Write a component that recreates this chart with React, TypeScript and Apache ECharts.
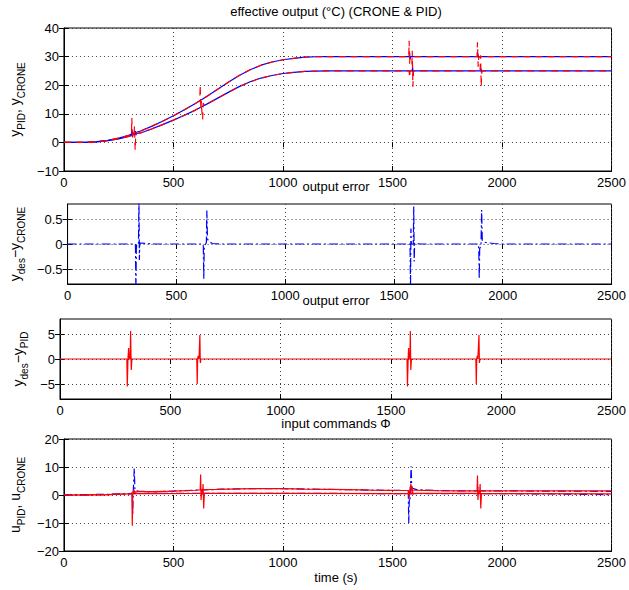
import React, { useEffect, useRef } from "react";
import * as echarts from "echarts";

const FONT = "'Liberation Sans', Arial, Helvetica, sans-serif";

// ---- data (time in s, value) ----
const timeMin = 0;
const timeMax = 2500;
const timeStep = 500;

const outTickMin = -10;
const outTickMax = 40;
const outTickStep = 10;
const errCroneRange = [-0.8, 0.8];
const errCroneTicks = [-0.5, 0, 0.5];
const errPidRange = [-8, 8];
const errPidTicks = [-5, 0, 5];
const cmdTickMin = -20;
const cmdTickMax = 20;
const cmdTickStep = 10;

const yPidHigh: [number, number][] = [
  [0, 0], [100, 0.05], [150, 0.25], [200, 0.7], [250, 1.5], [300, 2.6], [308, 2.9], [310, 8.5], [312, 1.0], [315, 3.2],
  [350, 4.0], [400, 5.6], [450, 7.4], [500, 9.3], [550, 11.4], [600, 13.6], [620, 14.6], [622, 20.0], [625, 11.5], [628, 15.0],
  [650, 16.0], [700, 18.5], [750, 21.0], [800, 23.4], [850, 25.4], [900, 27.0], [950, 28.1], [1000, 28.9], [1050, 29.4],
  [1100, 29.8], [1150, 29.95], [1200, 30], [1574, 30], [1576, 35.5], [1578, 27.5], [1580, 30], [1886, 30], [1888, 35],
  [1891, 26.5], [1894, 30], [2500, 30],
];
const yPidLow: [number, number][] = [
  [0, 0], [100, 0.04], [150, 0.2], [200, 0.6], [250, 1.25], [300, 2.2], [320, 2.8], [322, 5.7], [325, -2.7], [328, 3.0],
  [350, 3.3], [400, 4.7], [450, 6.2], [500, 7.8], [550, 9.5], [600, 11.3], [628, 12.5], [633, 8.0], [636, 13.8], [640, 13.0],
  [650, 13.3], [700, 15.4], [750, 17.5], [800, 19.5], [850, 21.2], [900, 22.5], [950, 23.4], [1000, 24.1], [1050, 24.5],
  [1100, 24.8], [1150, 24.95], [1200, 25], [1576, 25], [1578, 22.7], [1580, 25], [1588, 25], [1590, 32], [1593, 19.5],
  [1596, 25], [1900, 25], [1902, 30.5], [1905, 19.5], [1908, 25], [2500, 25],
];
const yCroneHigh: [number, number][] = [
  [0, 0], [100, 0.05], [150, 0.25], [200, 0.7], [250, 1.5], [300, 2.6], [308, 2.9], [311, 4.5], [313, 2.0], [316, 3.2],
  [350, 4.0], [400, 5.6], [450, 7.4], [500, 9.3], [550, 11.4], [600, 13.6], [650, 16.0], [700, 18.5], [750, 21.0],
  [800, 23.4], [850, 25.4], [900, 27.0], [950, 28.1], [1000, 28.9], [1050, 29.4], [1100, 29.8], [1150, 29.95], [1200, 30],
  [1576, 30], [1578, 31.5], [1580, 29], [1583, 30], [1888, 30], [1890, 31], [1892, 29.5], [1895, 30], [2500, 30],
];
const yCroneLow: [number, number][] = [
  [0, 0], [100, 0.04], [150, 0.2], [200, 0.6], [250, 1.25], [300, 2.2], [324, 3.0], [326, 4.0], [328, 2.5], [331, 3.1],
  [350, 3.3], [400, 4.7], [450, 6.2], [500, 7.8], [550, 9.5], [600, 11.3], [650, 13.3], [700, 15.4], [750, 17.5],
  [800, 19.5], [850, 21.2], [900, 22.5], [950, 23.4], [1000, 24.1], [1050, 24.5], [1100, 24.8], [1150, 24.95], [1200, 25],
  [1590, 25], [1592, 26.2], [1594, 24], [1597, 25], [1902, 25], [1904, 25.8], [1906, 24.5], [1909, 25], [2500, 25],
];

const errCrone: [number, number][] = [
  [0, 0], [312, 0], [314, -0.95], [316, -0.1], [318, 0], [326, 0], [328, 0.95], [330, -0.32], [332, 0.02], [360, 0.01],
  [400, 0], [622, 0], [624, -0.05], [626, -0.7], [628, -0.05], [638, 0.03], [640, 0.67], [643, 0.1], [650, 0.05],
  [665, 0.01], [700, 0], [1574, 0], [1576, -0.95], [1578, 0.31], [1580, 0], [1589, 0], [1591, 0.75], [1593, -0.35],
  [1595, 0.02], [1620, 0], [1888, 0], [1890, -0.1], [1892, -0.7], [1894, -0.09], [1900, -0.05], [1903, 0.68],
  [1906, 0.06], [1920, 0.03], [1960, 0.01], [2000, 0], [2500, 0],
];
const errPid: [number, number][] = [
  [0, 0], [303, 0], [305, -5.5], [308, 0], [311, 2.2], [314, 0], [318, 0], [320, 5.6], [323, -2.2], [326, 0],
  [620, 0], [622, -5], [624, 0], [626, 0.65], [630, 0], [632, 0], [634, 4.8], [636, -0.8], [639, 0],
  [1573, 0], [1575, -5.5], [1578, 0], [1580, 2.2], [1582, 0], [1586, 0], [1588, 5.6], [1590, -2.2], [1593, 0],
  [1885, 0], [1887, -5], [1889, 0], [1891, 0.65], [1894, 0], [1897, 0], [1899, 4.8], [1901, -0.8], [1904, 0], [2500, 0],
];

const uPidHigh: [number, number][] = [
  [0, 0], [100, 0.05], [200, 0.15], [300, 0.45], [310, 0.7], [312, -11], [314, 0.5], [318, 1.8], [322, 1.0], [340, 1.2],
  [400, 1.2], [500, 1.4], [600, 1.7], [622, 1.8], [624, 7.3], [626, -1.8], [629, 1.9], [700, 2.0], [800, 2.2], [900, 2.3],
  [1000, 2.25], [1100, 2.1], [1200, 2.0], [1300, 1.9], [1400, 1.75], [1500, 1.65], [1574, 1.6], [1576, -1.2], [1579, 1.6],
  [1584, 4.0], [1587, 1.7], [1600, 1.7], [1700, 1.55], [1800, 1.5], [1886, 1.5], [1888, 7.0], [1890, -1.8], [1893, 1.5],
  [2500, 1.5],
];
const uPidLow: [number, number][] = [
  [0, 0], [100, 0.05], [200, 0.15], [300, 0.45], [318, 0.6], [322, 1.5], [326, 0.5], [400, 0.5], [633, 0.6], [635, 3.9],
  [638, -4.8], [641, 0.6], [1000, 0.6], [1588, 0.5], [1590, 3.0], [1593, 0.2], [1596, 0.6], [1898, 0.6], [1900, 3.9],
  [1903, -4.8], [1906, 0.5], [2500, 0.4],
];
const uCroneHigh: [number, number][] = [
  [0, 0], [100, 0.05], [200, 0.15], [300, 0.45], [312, 0.7], [314, -7], [316, 0.5], [321, 9.5], [324, 1.6], [340, 1.4],
  [400, 1.1], [500, 1.4], [600, 1.7], [700, 2.0], [800, 2.2], [900, 2.3], [1000, 2.25], [1100, 2.1], [1200, 2.0],
  [1300, 1.9], [1400, 1.75], [1500, 1.65], [1572, 1.6], [1574, -10], [1577, -1], [1580, -1.5], [1585, 10.3], [1588, 2.5],
  [1610, 1.9], [1700, 1.6], [1800, 1.5], [1888, 1.5], [1890, 2.8], [1892, 0.5], [1894, 1.5], [2500, 1.3],
];
const uCroneLow: [number, number][] = [
  [0, 0], [300, 0.4], [330, 0.5], [400, 0.6], [630, 0.6], [632, 1.5], [634, 0.1], [636, 0.6], [1000, 0.6], [1500, 0.5],
  [1900, 0.5], [1903, 1.3], [1905, 0], [1908, 0.5], [2200, 0.4], [2500, 0.1],
];

const titles = [
  "effective output (°C) (CRONE & PID)",
  "output error",
  "output error",
  "input commands Φ",
];
const timeLabel = "time (s)";
const yNames = [
  "{n|y}{s|PID}{n|, y}{s|CRONE}",
  "{n|y}{s|des}{n|−y}{s|CRONE}",
  "{n|y}{s|des}{n|−y}{s|PID}",
  "{n|u}{s|PID}{n|, u}{s|CRONE}",
];

const RED = "#ff0000";
const BLUE = "#0000ff";
const GRIDC = "#404040";

const fmt = (v: number) => String(v).replace("-", "−");

export default function App() {
  const ref = useRef<HTMLDivElement>(null);
  useEffect(() => {
    if (!ref.current) return;
    const chart = echarts.init(ref.current, undefined, { renderer: "svg" });
    const gridBoxes = [
      { top: 28, height: 143 },
      { top: 204, height: 80 },
      { top: 319, height: 80 },
      { top: 439, height: 112 },
    ];
    const grid = gridBoxes.map((g) => ({
      left: 60,
      width: 552,
      top: g.top,
      height: g.height,
      show: true,
      borderColor: "#000",
      borderWidth: 1,
      containLabel: false,
    }));
    const label = { color: "#000", fontSize: 13, fontFamily: FONT, formatter: fmt };
    const tick = { inside: true, length: 5, lineStyle: { color: "#000" } };
    const xAxis: any[] = [];
    gridBoxes.forEach((_, i) => {
      xAxis.push({
        type: "value",
        gridIndex: i,
        min: timeMin,
        max: timeMax,
        interval: timeStep,
        axisLine: { show: true, onZero: false, lineStyle: { color: "#000" } },
        axisTick: tick,
        axisLabel: { ...label, margin: 5 },
        splitLine: { show: true, lineStyle: { type: [1, 3], color: GRIDC, width: 1 } },
      });
    });
    gridBoxes.forEach((_, i) => {
      xAxis.push({
        type: "value",
        gridIndex: i,
        position: "top",
        min: timeMin,
        max: timeMax,
        interval: timeStep,
        axisLine: { show: false },
        axisTick: tick,
        axisLabel: { show: false },
        splitLine: { show: false },
      });
    });
    const nameStyle = {
      rich: {
        n: { fontSize: 14, fontFamily: FONT, color: "#000", lineHeight: 22 },
        s: { fontSize: 10, fontFamily: FONT, color: "#000", lineHeight: 11, verticalAlign: "bottom" },
      },
    };
    const yCommon = (i: number) => ({
      type: "value",
      gridIndex: i,
      name: yNames[i],
      nameLocation: "middle",
      nameGap: 27,
      nameTextStyle: nameStyle,
      axisLine: { show: true, onZero: false, lineStyle: { color: "#000" } },
      axisTick: tick,
      axisLabel: { ...label, margin: 5 },
      splitLine: { show: true, lineStyle: { type: [1, 3], color: GRIDC, width: 1 } },
    });
    const yAxis: any[] = [
      { ...yCommon(0), min: outTickMin, max: outTickMax, interval: outTickStep },
      {
        ...yCommon(1),
        min: errCroneRange[0],
        max: errCroneRange[1],
        axisLabel: { ...label, margin: 5, customValues: errCroneTicks },
        axisTick: { ...tick, customValues: errCroneTicks },
        splitLine: { show: false },
      },
      {
        ...yCommon(2),
        min: errPidRange[0],
        max: errPidRange[1],
        axisLabel: { ...label, margin: 5, customValues: errPidTicks },
        axisTick: { ...tick, customValues: errPidTicks },
        splitLine: { show: false },
      },
      { ...yCommon(3), min: cmdTickMin, max: cmdTickMax, interval: cmdTickStep },
    ];
    const rightBase = { type: "value", position: "right", axisLine: { show: false }, axisLabel: { show: false }, splitLine: { show: false } };
    yAxis.push(
      { ...rightBase, gridIndex: 0, min: outTickMin, max: outTickMax, interval: outTickStep, axisTick: tick },
      { ...rightBase, gridIndex: 1, min: errCroneRange[0], max: errCroneRange[1], axisTick: { ...tick, customValues: errCroneTicks } },
      { ...rightBase, gridIndex: 2, min: errPidRange[0], max: errPidRange[1], axisTick: { ...tick, customValues: errPidTicks } },
      { ...rightBase, gridIndex: 3, min: cmdTickMin, max: cmdTickMax, interval: cmdTickStep, axisTick: tick },
    );
    const line = (data: [number, number][], idx: number, color: string, type: any, z = 2, extra: any = {}) => ({
      type: "line",
      xAxisIndex: idx,
      yAxisIndex: idx,
      data,
      showSymbol: false,
      symbol: "none",
      clip: true,
      z,
      lineStyle: { color, width: 1.2, type },
      ...extra,
    });
    const gridMark = (ticks: number[]) => ({
      markLine: {
        silent: true,
        symbol: ["none", "none"],
        label: { show: false },
        lineStyle: { type: [1, 3], color: GRIDC, width: 1 },
        data: ticks.map((v) => ({ yAxis: v })),
      },
    });
    const series = [
      line(yCroneHigh, 0, BLUE, "solid", 2),
      line(yCroneLow, 0, BLUE, "solid", 2),
      line(yPidHigh, 0, RED, [7, 5], 3),
      line(yPidLow, 0, RED, [7, 5], 3),
      line(errCrone, 1, BLUE, [9, 3, 2, 3], 2, gridMark(errCroneTicks)),
      line(errPid, 2, RED, "solid", 2, gridMark(errPidTicks)),
      line(uCroneHigh, 3, BLUE, [8, 3, 2, 3], 2),
      line(uCroneLow, 3, BLUE, [8, 3, 2, 3], 2),
      line(uPidHigh, 3, RED, "solid", 3),
      line(uPidLow, 3, RED, "solid", 3),
    ];
    const tStyle = { color: "#000", fontSize: 13, fontWeight: "normal", fontFamily: FONT };
    const titleTops = [5, 180, 294, 417];
    const title = [
      ...titles.map((t, i) => ({
        text: t,
        left: 336,
        top: titleTops[i],
        padding: 0,
        textAlign: "center",
        textStyle: tStyle,
      })),
      { text: timeLabel, left: 336, top: 571, padding: 0, textAlign: "center", textStyle: tStyle },
    ];
    chart.setOption({
      animation: false,
      backgroundColor: "#fff",
      title,
      grid,
      xAxis,
      yAxis,
      series,
    });
    return () => chart.dispose();
  }, []);
  return (
    <div
      ref={ref}
      style={{ position: "fixed", left: 0, top: 0, width: 629, height: 590, background: "#fff" }}
    />
  );
}
